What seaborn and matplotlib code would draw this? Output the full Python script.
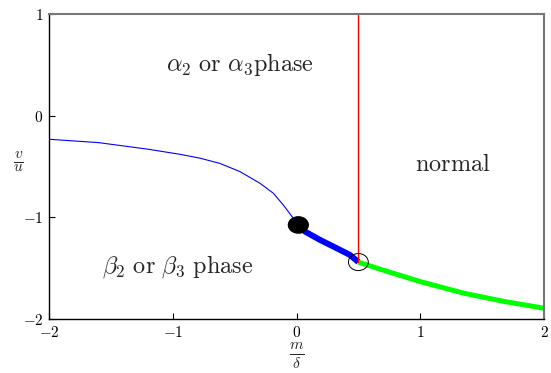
import matplotlib
matplotlib.use("Agg")
import matplotlib.pyplot as plt
from matplotlib.patches import Ellipse
import seaborn as sns

# ---- data ----
thin_x = [-2.0, -1.6, -1.2, -0.941, -0.78, -0.618, -0.457, -0.295, -0.187, -0.107, -0.026, 0.02]
thin_y = [-0.232, -0.265, -0.33, -0.38, -0.418, -0.47, -0.55, -0.665, -0.763, -0.878, -1.009, -1.075]
thick_x = [0.02, 0.069, 0.19, 0.325, 0.432, 0.5]
thick_y = [-1.09, -1.14, -1.222, -1.304, -1.37, -1.44]
green_x = [0.5, 0.675, 1.0, 1.35, 1.685, 2.0]
green_y = [-1.44, -1.51, -1.632, -1.746, -1.829, -1.894]
red_x = [0.5, 0.5]
red_y = [-1.44, 1.0]
dot_center = (0.015, -1.075)
ring_center = (0.5, -1.44)
circle_diam = 0.16
xticks = [-2, -1, 0, 1, 2]
yticks = [-2, -1, 0, 1]
xtick_labels = ["$-2$", "$-1$", "$0$", "$1$", "$2$"]
ytick_labels = ["$-2$", "$-1$", "$0$", "$1$"]

sns.set_style("ticks")
plt.rcParams["mathtext.fontset"] = "cm"
plt.rcParams["font.family"] = ["DejaVu Serif"]

fig = plt.figure(figsize=(5.51, 3.73), dpi=100)
ax = fig.add_axes([49 / 551, 54 / 373, 495 / 551, 305 / 373])

common = dict(sort=False, estimator=None, ax=ax)
sns.lineplot(x=thin_x, y=thin_y, color="#0000ff", lw=0.8, **common)
sns.lineplot(x=thick_x, y=thick_y, color="#0000ff", lw=4.3,
             solid_capstyle="butt", **common)
sns.lineplot(x=green_x, y=green_y, color="#00ff00", lw=3.6,
             solid_capstyle="butt", **common)
sns.lineplot(x=red_x, y=red_y, color="#ff0000", lw=1.0, **common)

ax.add_patch(Ellipse(dot_center, circle_diam, circle_diam, facecolor="black",
                     edgecolor="black", zorder=5))
ax.add_patch(Ellipse(ring_center, circle_diam, circle_diam * 1.05, facecolor="none",
                     edgecolor="black", lw=0.7, zorder=5))

ax.set_xlim(-2, 2)
ax.set_ylim(-2, 1)
ax.set_xticks(xticks)
ax.set_xticklabels(xtick_labels, fontsize=11)
ax.set_yticks(yticks)
ax.set_yticklabels(ytick_labels, fontsize=11)
ax.tick_params(direction="in", length=4, width=0.8, colors="black", pad=4)

for s in ["left", "bottom"]:
    ax.spines[s].set_color("black")
    ax.spines[s].set_linewidth(1.0)
for s in ["top", "right"]:
    ax.spines[s].set_color("#777777")
    ax.spines[s].set_linewidth(1.5)

ax.text(-0.457, 0.5, r"$\alpha_2\ \mathrm{or}\ \alpha_3\mathrm{phase}$", fontsize=17.5,
        ha="center", va="center")
ax.text(1.262, -0.48, r"$\mathrm{normal}$", fontsize=17.5, ha="center", va="center")
ax.text(-0.958, -1.48, r"$\beta_2\ \mathrm{or}\ \beta_3\ \mathrm{phase}$", fontsize=17.5,
        ha="center", va="center")

ax.set_xlabel(r"$\frac{m}{\delta}$", fontsize=16, labelpad=2)
ax.set_ylabel(r"$\frac{v}{u}$", fontsize=16, rotation=0, va="center", ha="center")
ax.yaxis.set_label_coords(-0.062, 0.515)

fig.savefig("out.png", dpi=100)
